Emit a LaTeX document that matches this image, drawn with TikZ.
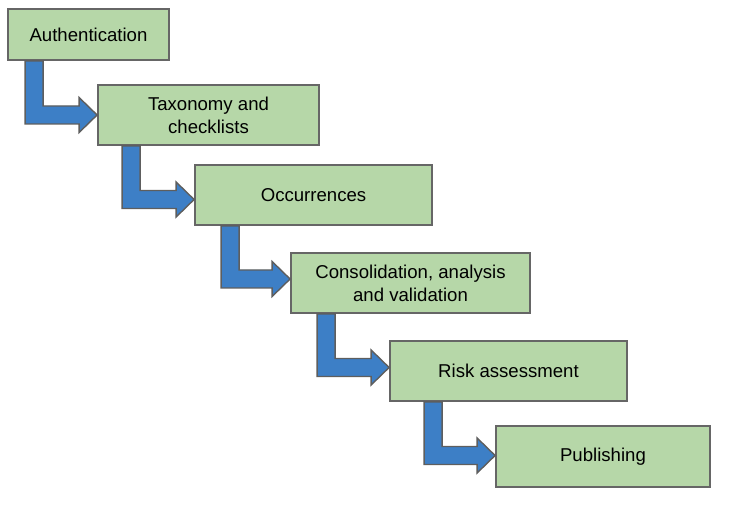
\documentclass[tikz,border=0pt]{standalone}
\usepackage{fontspec}
\setmainfont{Liberation Sans}
\usetikzlibrary{calc}
\definecolor{boxgreen}{HTML}{B6D7A8}
\definecolor{boxline}{HTML}{666666}
\definecolor{arrblue}{HTML}{3D7FC6}
\definecolor{arrline}{HTML}{5E5E5E}
\tikzset{
  stagebox/.style={draw=boxline, line width=1.8pt, fill=boxgreen, inner sep=0pt,
    align=center, font=\fontsize{18.6}{23}\selectfont, text=black},
  bentarr/.style={draw=arrline, line width=1.4pt, fill=arrblue, line join=miter}
}
\newcommand\bentarrow[4]{%
  \path[bentarr] let \p1=(#1.south west), \p2=(#2.west), \n1={\y2-#4pt} in
    (\x1+#3pt,\y1) -- (\x1+#3pt,\n1-9pt) -- (\x2-18pt,\n1-9pt) -- (\x2-18pt,\n1-17.5pt)
    -- (\x2,\n1) -- (\x2-18pt,\n1+17.5pt) -- (\x2-18pt,\n1+9pt) -- (\x1+#3pt+18pt,\n1+9pt)
    -- (\x1+#3pt+18pt,\y1) -- cycle;}
\begin{document}
\begin{tikzpicture}[x=1pt,y=-1pt]
\useasboundingbox (0,0) rectangle (729,510);
\node[stagebox, minimum width=161pt, minimum height=51pt] (auth) at (88.5,34.5) {Authentication};
\node[stagebox, minimum width=221pt, minimum height=60pt] (tax) at (208.5,115) {Taxonomy and\\checklists};
\node[stagebox, minimum width=237pt, minimum height=60pt] (occ) at (313.5,195) {Occurrences};
\node[stagebox, minimum width=239pt, minimum height=60pt] (cons) at (410.5,283) {Consolidation, analysis\\and validation};
\node[stagebox, minimum width=237pt, minimum height=60pt] (risk) at (508.5,371) {Risk assessment};
\node[stagebox, minimum width=214pt, minimum height=61pt] (pub) at (603,456.5) {Publishing};
\bentarrow{auth}{tax}{18}{0}
\bentarrow{tax}{occ}{25}{4.5}
\bentarrow{occ}{cons}{27}{-4}
\bentarrow{cons}{risk}{27}{-3.5}
\bentarrow{risk}{pub}{35}{-1}
\end{tikzpicture}
\end{document}
